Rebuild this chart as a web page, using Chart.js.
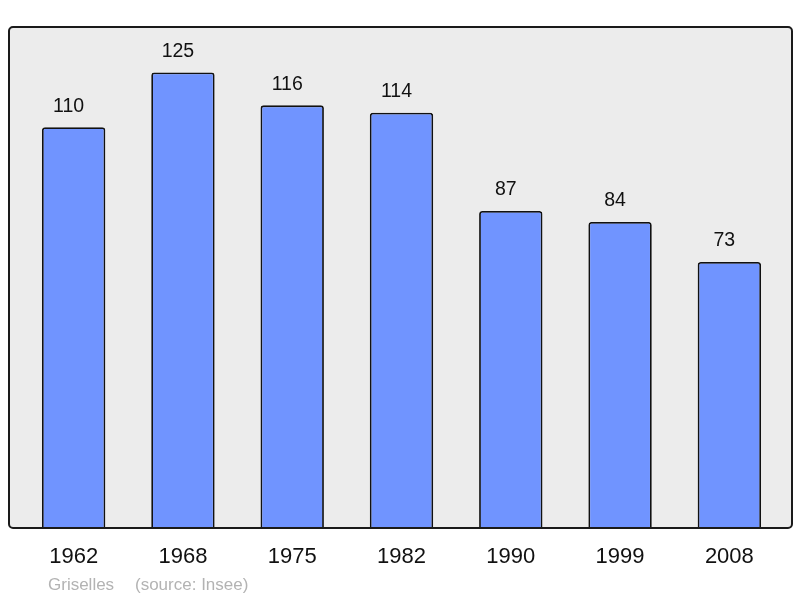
<!DOCTYPE html>
<html>
<head>
<meta charset="utf-8">
<script src="https://cdn.jsdelivr.net/npm/chart.js@4"></script>
<style>
  html, body { margin: 0; padding: 0; background: #fff; }
  #wrap { width: 800px; height: 598px; }
</style>
</head>
<body>
<div id="wrap"><canvas id="popChart" width="800" height="598"></canvas></div>
<script>
const years = ['1962', '1968', '1975', '1982', '1990', '1999', '2008'];
const population = [110, 125, 116, 114, 87, 84, 73];
const townName = 'Griselles';
const sourceText = '(source: Insee)';

const FONT = '"Liberation Sans", Arial, sans-serif';

// frame behind the bars + year labels, value labels and footer
const decor = {
  id: 'decor',
  beforeDraw(chart) {
    const c = chart.ctx, a = chart.chartArea;
    const x0 = a.left - 10, x1 = a.right + 8, y0 = a.top, y1 = a.bottom;
    c.save();
    c.beginPath();
    c.roundRect(x0, y0, x1 - x0, y1 - y0, 4);
    c.fillStyle = '#ececec';
    c.fill();
    c.restore();
  },
  afterDatasetsDraw(chart) {
    const c = chart.ctx, a = chart.chartArea;
    const x0 = a.left - 10, x1 = a.right + 8, y0 = a.top, y1 = a.bottom;
    c.save();
    c.beginPath();
    c.roundRect(x0, y0, x1 - x0, y1 - y0, 4);
    c.lineWidth = 2;
    c.strokeStyle = '#1a1a1a';
    c.stroke();

    const xs = chart.scales.x, ys = chart.scales.y;
    c.fillStyle = '#111';
    c.textAlign = 'center';
    c.textBaseline = 'middle';
    c.font = '22px ' + FONT;
    years.forEach((y, i) => c.fillText(y, xs.getPixelForValue(i), 557));
    c.font = '19.5px ' + FONT;
    population.forEach((v, i) => c.fillText(String(v), xs.getPixelForValue(i) - 5, ys.getPixelForValue(v) - 21));

    c.fillStyle = '#b3b3b3';
    c.textAlign = 'left';
    c.font = '17px ' + FONT;
    c.fillText(townName, 48, 585);
    c.fillText(sourceText, 135, 585);
    c.restore();
  }
};

new Chart(document.getElementById('popChart').getContext('2d'), {
  type: 'bar',
  data: {
    labels: years,
    datasets: [{
      data: population,
      backgroundColor: '#7094ff',
      borderColor: '#111',
      borderWidth: 1.8,
      borderRadius: { topLeft: 3, topRight: 3 },
      borderSkipped: 'bottom',
      barPercentage: 0.58,
      categoryPercentage: 1
    }]
  },
  options: {
    responsive: false,
    animation: false,
    layout: { padding: { left: 19, right: 16, top: 27, bottom: 70 } },
    plugins: { legend: { display: false }, tooltip: { enabled: false } },
    scales: {
      x: { display: false },
      y: { display: false, min: 0, max: 137.5 }
    }
  },
  plugins: [decor]
});
</script>
</body>
</html>
